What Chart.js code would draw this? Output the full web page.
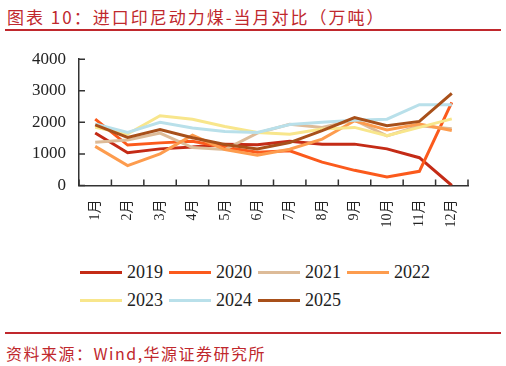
<!DOCTYPE html>
<html>
<head>
<meta charset="utf-8">
<script src="https://cdn.jsdelivr.net/npm/chart.js@4.4.1/dist/chart.umd.min.js"></script>
<style>
  html, body { margin: 0; padding: 0; background: #fff; }
  body { width: 506px; height: 366px; position: relative; overflow: hidden; font-family: "Noto Sans CJK SC", sans-serif; }
  #title { position: absolute; left: 7px; top: 4px; font-size: 17px; color: #C0282D; letter-spacing: 2px; white-space: nowrap; }
  .rule { position: absolute; left: 5px; width: 496px; height: 2px; background: #C0282D; }
  #chartBox { position: absolute; left: 0; top: 36px; width: 506px; height: 209px; }
  #legend { position: absolute; left: 80px; top: 258px; width: 400px; font-family: "Liberation Serif", serif; font-size: 18px; color: #222; }
  .lrow { display: flex; height: 28px; align-items: center; }
  .litem { display: flex; align-items: center; width: 89px; }
  .lline { width: 42px; height: 3px; margin-right: 5px; }
  #source { position: absolute; left: 6px; top: 341px; font-size: 16px; color: #C0282D; letter-spacing: 1.5px; white-space: nowrap; }
</style>
</head>
<body>
<div id="title">图表 10：进口印尼动力煤-当月对比（万吨）</div>
<div class="rule" style="top:29px"></div>
<div id="chartBox"><canvas id="chart"></canvas></div>
<div id="legend"></div>
<div class="rule" style="top:332px"></div>
<div id="source">资料来源：Wind,华源证券研究所</div>
<script>
var months = ['1月', '2月', '3月', '4月', '5月', '6月', '7月', '8月', '9月', '10月', '11月', '12月'];
var years = ['2019', '2020', '2021', '2022', '2023', '2024', '2025'];

var y2019 = [1660, 1040, 1160, 1220, 1310, 1290, 1400, 1310, 1310, 1160, 880, 0];
var y2020 = [2100, 1280, 1350, 1400, 1210, 1050, 1100, 740, 480, 270, 450, 2630];
var y2021 = [1370, 1440, 1660, 1200, 1140, 1660, 1940, 1840, 2070, 1570, 1890, 1800];
var y2022 = [1240, 630, 1000, 1590, 1140, 960, 1150, 1470, 2050, 1760, 1950, 1740];
var y2023 = [1840, 1630, 2210, 2100, 1870, 1680, 1620, 1790, 1840, 1580, 1840, 2110];
var y2024 = [1950, 1680, 2000, 1820, 1710, 1680, 1930, 2000, 2070, 2100, 2560, 2560];
var y2025 = [1920, 1520, 1770, 1510, 1300, 1160, 1360, 1740, 2150, 1890, 2030, 2920];

var series = [y2019, y2020, y2021, y2022, y2023, y2024, y2025];
var colors = ['#C42B16', '#FB5A1C', '#DDBB98', '#FD9C4E', '#F8E68C', '#B9E0EA', '#A8501A'];

// draw order: later years on top
var datasets = years.map(function (y, i) {
    return {
        label: y,
        data: series[i],
        borderColor: colors[i],
        backgroundColor: colors[i],
        borderWidth: 3,
        pointRadius: 0,
        tension: 0,
        order: years.length - i
    };
});

// ticks pointing inward, as in the original
var innerTicks = {
    id: 'innerTicks',
    afterDraw: function (chart) {
        var ctx = chart.ctx, ys = chart.scales.y;
        var area = chart.chartArea;
        ctx.save();
        ctx.strokeStyle = '#333';
        ctx.lineWidth = 1.5;
        ctx.beginPath();
        ys.ticks.forEach(function (t) {
            var py = ys.getPixelForValue(t.value);
            ctx.moveTo(area.left, py);
            ctx.lineTo(area.left + 6, py);
        });
        for (var i = 0; i <= months.length; i++) {
            var px = area.left + (area.right - area.left) * i / months.length;
            ctx.moveTo(px, area.bottom);
            ctx.lineTo(px, area.bottom - 6);
        }
        ctx.stroke();
        ctx.restore();
    }
};

new Chart(document.getElementById('chart'), {
    type: 'line',
    data: { labels: months, datasets: datasets },
    options: {
        responsive: true,
        maintainAspectRatio: false,
        animation: false,
        layout: { padding: { left: 0, right: 38, top: 14, bottom: 0 } },
        plugins: { legend: { display: false }, tooltip: { enabled: false } },
        scales: {
            x: {
                offset: true,
                grid: { display: false, drawTicks: false },
                border: { color: '#333', width: 1.5 },
                ticks: {
                    minRotation: 90, maxRotation: 90, padding: 14,
                    color: '#222',
                    font: { family: '"Liberation Serif", "Noto Sans CJK SC", serif', size: 14 }
                },
                afterFit: function (s) { s.height = 59.5; }
            },
            y: {
                min: 0, max: 4000,
                grid: { display: false, drawTicks: false },
                border: { color: '#333', width: 1.5 },
                ticks: {
                    stepSize: 1000, padding: 13,
                    color: '#222',
                    font: { family: '"Liberation Serif", serif', size: 17 },
                    callback: function (v) { return String(v); }
                },
                afterFit: function (s) { s.width = 79; }
            }
        }
    },
    plugins: [innerTicks]
});

// legend built from the same series
var legend = document.getElementById('legend');
[[0, 1, 2, 3], [4, 5, 6]].forEach(function (row) {
    var r = document.createElement('div');
    r.className = 'lrow';
    row.forEach(function (i) {
        var it = document.createElement('div');
        it.className = 'litem';
        it.innerHTML = '<div class="lline" style="background:' + colors[i] + '"></div><span>' + years[i] + '</span>';
        r.appendChild(it);
    });
    legend.appendChild(r);
});
</script>
</body>
</html>
